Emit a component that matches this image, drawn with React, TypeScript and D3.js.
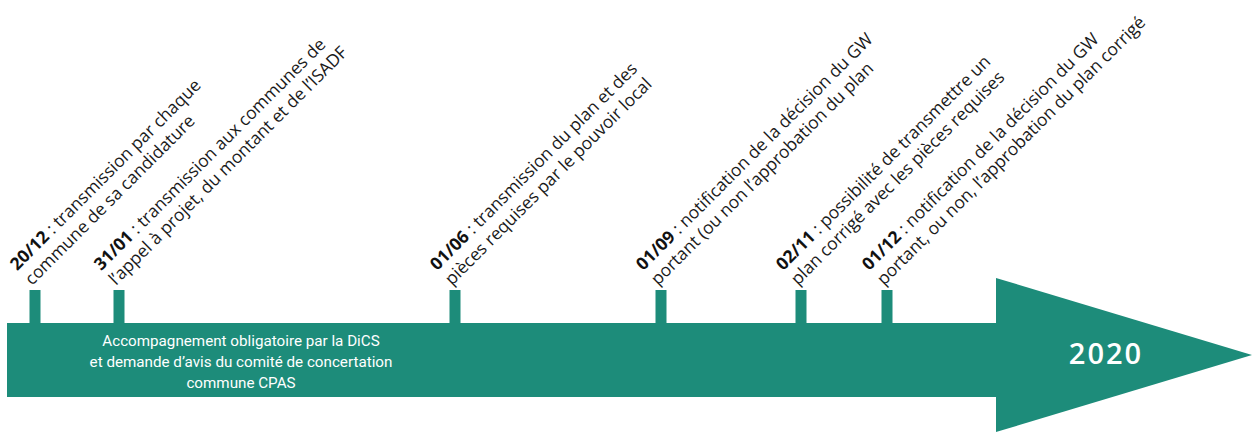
import React from "react";
import * as d3 from "d3";

const dates = ["20/12", "31/01", "01/06", "01/09", "02/11", "01/12"];
// position of each milestone along the timeline (timeline units)
const positions = [35, 119, 455, 661, 801, 887];
const firstLines = [
  "transmission par chaque",
  "transmission aux communes de",
  "transmission du plan et des",
  "notification de la décision du GW",
  "possibilité de transmettre un",
  "notification de la décision du GW",
];
const secondLines = [
  "commune de sa candidature",
  "l’appel à projet, du montant et de l’ISADF",
  "pièces requises par le pouvoir local",
  "portant (ou non l’approbation du plan",
  "plan corrigé avec les pièces requises",
  "portant, ou non, l’approbation du plan corrigé",
];
const barText = [
  "Accompagnement obligatoire par la DiCS",
  "et demande d’avis du comité de concertation",
  "commune CPAS",
];
const yearLabel = "2020";

const W = 1253;
const H = 440;
const TEAL = "#1d8c7a";

export default function App() {
  const x = d3.scaleLinear().domain([0, W]).range([0, W]);
  const barLeft = 7;
  const barTop = 323;
  const barBottom = 397;
  const headBase = 996;
  const headTop = 278;
  const headBottom = 432;
  const tip = 1252;
  const tipY = 355;
  const tickTop = 290;
  const tickW = 11;
  const lineH = 21;

  const headPath = d3.line()([
    [x(headBase), headTop],
    [x(tip), tipY],
    [x(headBase), headBottom],
  ]) + "Z";

  return (
    <div style={{ position: "absolute", left: 0, top: 0 }}>
      <svg width={W} height={H} style={{ display: "block", background: "#fff" }}>
        <rect x={x(barLeft)} y={barTop} width={x(headBase) - x(barLeft) + 1} height={barBottom - barTop} fill={TEAL} />
        <path d={headPath} fill={TEAL} />
        {positions.map((p, i) => (
          <rect key={"t" + i} x={x(p) - tickW / 2} y={tickTop} width={tickW} height={barTop - tickTop + 1} fill={TEAL} />
        ))}
        {positions.map((p, i) => (
          <g key={"l" + i} transform={`translate(${x(p) - 3},${tickTop - 4}) rotate(-45)`}
            style={{ fontFamily: "'Open Sans', sans-serif", fontSize: 17.4 }}
            fill="#1a1a1a">
            <text y={-lineH}>
              <tspan fontWeight="bold" fill="#111">{dates[i]}</tspan>
              <tspan>{" : " + firstLines[i]}</tspan>
            </text>
            <text y={0}>{secondLines[i]}</text>
          </g>
        ))}
        <g style={{ fontFamily: "Roboto, sans-serif", fontSize: 15.2 }} fill="#fff" textAnchor="middle">
          {barText.map((t, i) => (
            <text key={"b" + i} x={x(241)} y={346 + i * 21}>{t}</text>
          ))}
        </g>
        <text x={x(1106)} y={364} textAnchor="middle" fill="#fff"
          style={{ fontFamily: "'Open Sans', sans-serif", fontSize: 29, fontWeight: 600, letterSpacing: 2 }}>
          {yearLabel}
        </text>
      </svg>
    </div>
  );
}
